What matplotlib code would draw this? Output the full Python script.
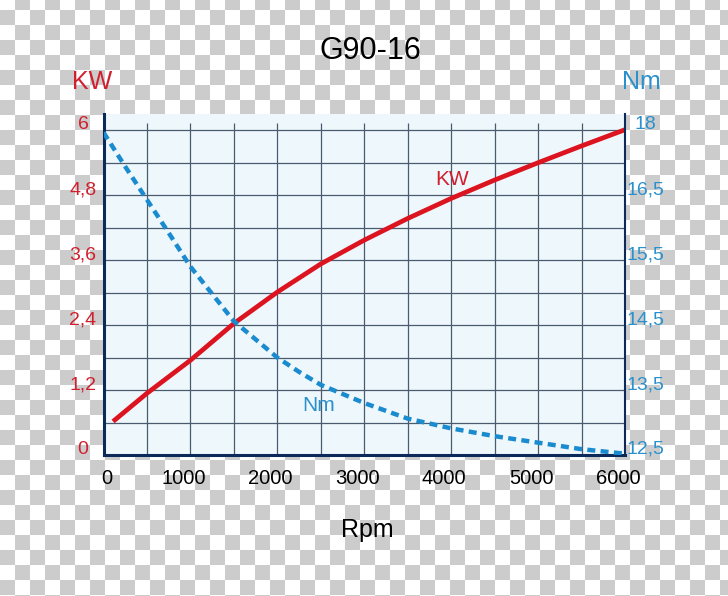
import numpy as np
import matplotlib
matplotlib.use("Agg")
import matplotlib.pyplot as plt
from matplotlib.colors import ListedColormap
from matplotlib.transforms import ScaledTranslation

# data
rpm_kw = [110, 500, 1000, 1500, 2000, 2500, 3000, 3500, 4000, 4500, 5000, 5500, 6000]
kw = [0.62, 1.14, 1.75, 2.43, 3.01, 3.53, 3.97, 4.37, 4.74, 5.08, 5.40, 5.71, 6.01]

rpm_nm = [0, 250, 500, 750, 1000, 1500, 2000, 2250, 2500, 2750, 3000, 3500,
          4000, 4500, 5000, 5500, 6000]
nm = [17.95, 17.16, 16.43, 15.92, 15.40, 14.56, 14.00, 13.78, 13.58, 13.44,
      13.30, 13.06, 12.91, 12.79, 12.69, 12.59, 12.52]

x_ticks = [0, 1000, 2000, 3000, 4000, 5000, 6000]
kw_ticks = [0, 1.2, 2.4, 3.6, 4.8, 6]
kw_tick_labels = ["0", "1,2", "2,4", "3,6", "4,8", "6"]
nm_ticks = [12.5, 13.5, 14.5, 15.5, 16.5, 18]
nm_tick_labels = ["12,5", "13,5", "14,5", "15,5", "16,5", "18"]

RED = "#dc1420"
RED_TXT = "#d0202e"
BLUE = "#1b8bd0"
BLUE_TXT = "#2b91cc"
NAVY = "#0b2a5a"
GRID = "#4a5b70"

plt.rcParams["font.family"] = ["Liberation Sans", "DejaVu Sans"]

W, H = 728, 596
fig = plt.figure(figsize=(W / 100, H / 100), dpi=100)

# checkerboard backdrop
bg = fig.add_axes([0, 0, 1, 1], zorder=-10)
xs = np.arange(W) // 15
ys = (np.arange(H) - 10) // 15
checker = (xs[None, :] + ys[:, None]) % 2
bg.imshow(checker, cmap=ListedColormap(["#cccccc", "white"]),
          extent=[0, W, H, 0], interpolation="nearest", aspect="auto")
bg.axis("off")

ax = fig.add_axes([103.5 / W, 1 - 455 / H, (625 - 103.5) / W, (455 - 114) / H])
ax.set_facecolor("#eef7fc")
ax.set_xlim(0, 6000)
ax.set_ylim(0, 6.3)

# grid
ax.vlines(np.arange(500, 6000, 500), 0, 6.13, color=GRID, lw=0.9, zorder=1)
ax.hlines(np.arange(0.6, 6.01, 0.6), 0, 6000, color=GRID, lw=0.9, zorder=1)

ax.plot(rpm_kw, kw, color=RED, lw=3.4, solid_capstyle="butt", zorder=3)

for s in ["top", "right"]:
    ax.spines[s].set_visible(False)
ax.spines["left"].set_color(NAVY)
ax.spines["left"].set_linewidth(2.2)
ax.spines["bottom"].set_color(NAVY)
ax.spines["bottom"].set_linewidth(2.2)

ax.set_xticks(x_ticks)
ax.set_xticklabels([str(v) for v in x_ticks])
ax.tick_params(axis="x", length=0, pad=10, labelsize=14.5, labelcolor="black")
for i, lab in enumerate(ax.get_xticklabels()):
    dx = 3 if i == 0 else -7
    lab.set_transform(lab.get_transform() + ScaledTranslation(dx / 100, 0, fig.dpi_scale_trans))

ax.set_yticks(kw_ticks)
ax.set_yticklabels(kw_tick_labels)
ax.tick_params(axis="y", length=0, pad=14.8, labelsize=14, labelcolor=RED_TXT)
for lab in ax.get_yticklabels():
    lab.set_horizontalalignment("center")
    lab.set_transform(lab.get_transform() + ScaledTranslation(0, 7.5 / 100, fig.dpi_scale_trans))

ax.text(4009, 5.09, "KW", color=RED_TXT, fontsize=15, ha="center", va="center")
ax.text(2479, 0.92, "Nm", color=BLUE_TXT, fontsize=15, ha="center", va="center")

# right axis: Nm labels are evenly spaced, so map them piecewise onto the grid
nm_ext = [11.5] + nm_ticks + [19.25]
u_ext = [-1.2] + kw_ticks + [7.0]


def fwd(v):
    return np.interp(v, nm_ext, u_ext)


def inv(u):
    return np.interp(u, u_ext, nm_ext)


ax2 = ax.twinx()
ax2.set_yscale("function", functions=(fwd, inv))
ax2.set_ylim(12.5, float(inv(6.3)))
ax2.plot(rpm_nm, nm, color=BLUE, lw=3.2, dashes=(1.8, 1.2), dash_capstyle="butt", zorder=2)
for s in ["top", "left", "bottom"]:
    ax2.spines[s].set_visible(False)
ax2.spines["right"].set_color(NAVY)
ax2.spines["right"].set_linewidth(1.5)
ax2.set_yticks(nm_ticks)
ax2.set_yticklabels(nm_tick_labels)
ax2.yaxis.set_minor_locator(matplotlib.ticker.NullLocator())
ax2.tick_params(axis="y", which="both", length=0, pad=15, labelsize=14, labelcolor=BLUE_TXT)
for lab in ax2.get_yticklabels():
    lab.set_horizontalalignment("center")
    lab.set_transform(lab.get_transform() + ScaledTranslation(0, 7.5 / 100, fig.dpi_scale_trans))

fig.text(370 / W, 1 - 59 / H, "G90-16", fontsize=22, ha="center", va="baseline")
fig.text(92 / W, 1 - 89 / H, "KW", fontsize=18, color=RED_TXT, ha="center", va="baseline")
fig.text(641 / W, 1 - 89 / H, "Nm", fontsize=18, color=BLUE_TXT, ha="center", va="baseline")
fig.text(367 / W, 1 - 537 / H, "Rpm", fontsize=18, ha="center", va="baseline")

fig.savefig("out.png", dpi=100)
